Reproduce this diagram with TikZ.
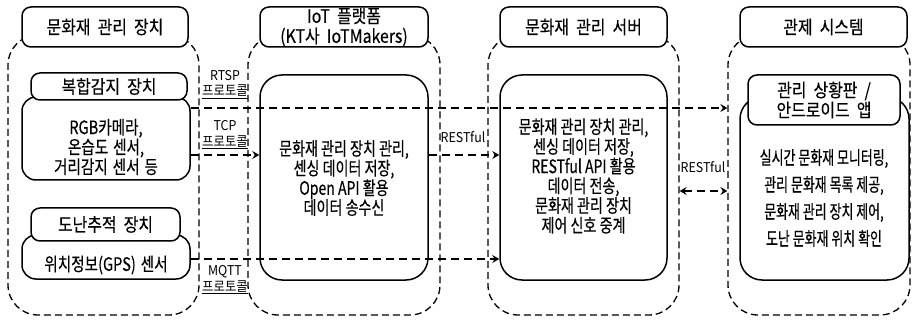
\documentclass[tikz,border=0pt]{standalone}
\usepackage{fontspec}
\setmainfont{Noto Sans CJK KR}
\newfontfamily\ktitle[FakeStretch=0.86,FakeBold=0.3,WordSpace=2]{Noto Sans CJK KR}
\newfontfamily\kbody[FakeStretch=0.76,FakeBold=0.3]{Noto Sans CJK KR}
\newfontfamily\kbodyn[FakeStretch=0.7,FakeBold=0.3]{Noto Sans CJK KR}
\newfontfamily\kbodyw[FakeStretch=0.79,FakeBold=0.3,WordSpace=1.5]{Noto Sans CJK KR}
\newfontfamily\klab[FakeStretch=0.92]{Noto Sans CJK KR}
\usetikzlibrary{arrows.meta}
\begin{document}
\begin{tikzpicture}[x=1pt,y=-1pt,
  outerbox/.style={draw, line width=1.3pt, dash pattern=on 7pt off 4pt, rounded corners=30pt, inner sep=0pt},
  titlebox/.style={draw, line width=1.5pt, rounded corners=9pt, fill=white, inner sep=0pt, align=center,
    font=\ktitle\fontsize{18.5}{20}\selectfont},
  bodybox/.style={draw, line width=1.5pt, rounded corners=22pt, fill=white, inner sep=0pt},
  smallbox/.style={draw, line width=1.5pt, rounded corners=14pt, fill=white, inner sep=0pt},
  bodytext/.style={align=center, inner sep=0pt, font=\kbody\fontsize{18.5}{19.7}\selectfont},
  labeltext/.style={align=center, inner sep=0pt, font=\klab\fontsize{13.5}{15.5}\selectfont},
  dline/.style={line width=2.2pt, dash pattern=on 8pt off 5pt},
  tip/.style={-{Stealth[length=7pt,width=8pt,inset=2.5pt]}},
  bitip/.style={{Stealth[length=7pt,width=8pt,inset=2.5pt]}-{Stealth[length=7pt,width=8pt,inset=2.5pt]}}
]
\useasboundingbox (0,0) rectangle (912,320);

% outer dashed groups
\node[outerbox, minimum width=191pt, minimum height=280pt] (o1) at (103.5,175) {};
\node[outerbox, minimum width=192pt, minimum height=280pt] (o2) at (344,175) {};
\node[outerbox, minimum width=191pt, minimum height=280pt] (o3) at (583.5,175) {};
\node[outerbox, minimum width=182pt, minimum height=280pt] (o4) at (819,175) {};

% column titles
\node[titlebox, minimum width=166pt, minimum height=40pt] (t1) at (105,27) {문화재 관리 장치};
\node[titlebox, minimum width=168pt, minimum height=40pt] (t2) at (344,27) {IoT 플랫폼\\(KT사 IoTMakers)};
\node[titlebox, minimum width=167pt, minimum height=40pt] (t3) at (583.5,27) {문화재 관리 서버};
\node[titlebox, minimum width=167pt, minimum height=40pt] (t4) at (823.5,27) {관제 시스템};

% column 1
\node[smallbox, minimum width=168pt, minimum height=83pt] (b1) at (106,138.5) {};
\node[titlebox, minimum width=156pt, minimum height=27pt] (a1) at (109,86.5) {복합감지 장치};
\node[bodytext, font=\kbodyw\fontsize{18.5}{18}\selectfont] (b1t) at (106,147) {RGB카메라,\\온습도 센서,\\거리감지 센서 등};
\node[smallbox, minimum width=168pt, minimum height=44pt] (b2) at (106,257) {};
\node[titlebox, minimum width=149pt, minimum height=33pt] (a2) at (105.5,224.5) {도난추적 장치};
\node[bodytext, font=\kbodyw\fontsize{18.5}{18}\selectfont] (b2t) at (106,265) {위치정보(GPS) 센서};

% column 2
\node[bodybox, minimum width=168pt, minimum height=205pt] (c2) at (344,177.5) {};
\node[bodytext] (c2t) at (344,178) {문화재 관리 장치 관리,\\센싱 데이터 저장,\\Open API 활용\\데이터 송수신};

% column 3
\node[bodybox, minimum width=167pt, minimum height=205pt] (c3) at (583.5,177.5) {};
\node[bodytext] (c3t) at (583.5,176) {문화재 관리 장치 관리,\\센싱 데이터 저장,\\RESTful API 활용\\데이터 전송,\\문화재 관리 장치\\제어 신호 중계};

% column 4
\node[bodybox, minimum width=169pt, minimum height=183pt] (c4) at (824.5,188.5) {};
\node[titlebox, minimum width=152pt, minimum height=50pt] (a4) at (824,100) {관리 상황판 /\\안드로이드 앱};
\node[bodytext, font=\kbodyn\fontsize{18.5}{27}\selectfont] (c4t) at (824,198) {실시간 문화재 모니터링,\\관리 문화재 목록 제공,\\문화재 관리 장치 제어,\\도난 문화재 위치 확인};

% connectors
\draw[dline, tip] (b1.east |- 0,108) -- (o4.west |- 0,108);
\draw[dline, tip] (b1.east |- 0,155) -- (c2.west |- 0,155);
\draw[dline, tip] (b2.east |- 0,259) -- (c3.west |- 0,259);
\draw[dline, tip] (c2.east |- 0,155) -- (c3.west |- 0,155);
\draw[dline, bitip] (o3.east |- 0,191) -- (o4.west |- 0,191);

% connector labels
\node[labeltext] (l1) at (225,84.5) {RTSP\\\underline{프로토콜}};
\node[labeltext] (l2) at (225,135) {TCP\\\underline{프로토콜}};
\node[labeltext] (l3) at (225,280) {MQTT\\\underline{프로토콜}};
\node[labeltext] (l4) at (463,137) {RESTful};
\node[labeltext] (l5) at (703,167) {RESTful};
\end{tikzpicture}
\end{document}
